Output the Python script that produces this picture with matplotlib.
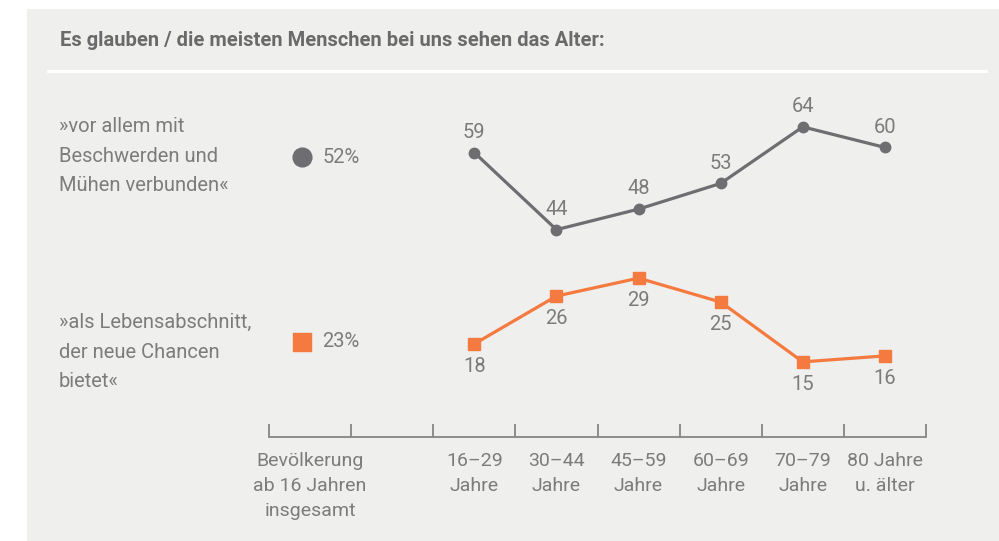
import matplotlib.pyplot as plt
from matplotlib.patches import Rectangle
from matplotlib.lines import Line2D

# data
groups = ['16–29\nJahre', '30–44\nJahre', '45–59\nJahre', '60–69\nJahre', '70–79\nJahre', '80 Jahre\nu. älter']
total_label = 'Bevölkerung\nab 16 Jahren\ninsgesamt'
beschwerden = [59, 44, 48, 53, 64, 60]
chancen = [18, 26, 29, 25, 15, 16]
beschwerden_total = 52
chancen_total = 23
series_labels = ['»vor allem mit\nBeschwerden und\nMühen verbunden«',
                 '»als Lebensabschnitt,\nder neue Chancen\nbietet«']
title = 'Es glauben / die meisten Menschen bei uns sehen das Alter:'

GRAY = '#6e6e72'
ORANGE = '#f47a40'
TEXT = '#7c7c7c'
BG = '#efefee'

W, H = 999, 541
plt.rcParams['font.family'] = ['Roboto', 'DejaVu Sans']

fig = plt.figure(figsize=(W / 100, H / 100), dpi=100)
fig.patch.set_facecolor('white')
fig.patches.append(Rectangle((27 / W, 0), 1 - 27 / W, 1 - 9 / H, transform=fig.transFigure,
                             facecolor=BG, edgecolor='none', zorder=-10))
fig.add_artist(Line2D([48 / W, 986 / W], [1 - 71 / H, 1 - 71 / H], color='white', lw=2.2, zorder=-5))

fig.text(60 / W, 1 - 41 / H, title, fontsize=14.5, fontweight='bold', color='#6a6a6a',
         va='center', ha='left')


def px_axes(top, bottom):
    x0, x1 = 269, 926
    return fig.add_axes([x0 / W, 1 - bottom / H, (x1 - x0) / W, (bottom - top) / H])


xs = [i + 2.5 for i in range(len(groups))]

# upper band
ax1 = px_axes(110, 240)
ax1.set_xlim(0, 8)
ax1.set_ylim(41.99, 67.28)
ax1.axis('off')
ax1.plot(xs, beschwerden, color=GRAY, lw=2.3, marker='o', ms=7.5, solid_capstyle='round')
for x, v in zip(xs, beschwerden):
    ax1.annotate(str(v), (x, v), xytext=(0, 14.5), textcoords='offset points',
                 ha='center', va='center', fontsize=14.5, color=TEXT)
ax1.plot([0.4], [0.638], transform=ax1.get_xaxis_transform(), marker='o', ms=13.5,
         color=GRAY, ls='none', clip_on=False)
ax1.text(0.65, 0.638, f'{beschwerden_total}%', transform=ax1.get_xaxis_transform(),
         ha='left', va='center', fontsize=14.5, color=TEXT)

# lower band
ax2 = px_axes(260, 380)
ax2.set_xlim(0, 8)
ax2.set_ylim(11.97, 32.03)
ax2.axis('off')
ax2.plot(xs, chancen, color=ORANGE, lw=2.3, marker='s', ms=8.5)
for x, v in zip(xs, chancen):
    ax2.annotate(str(v), (x, v), xytext=(0, -16), textcoords='offset points',
                 ha='center', va='center', fontsize=14.5, color=TEXT)
ax2.plot([0.4], [0.317], transform=ax2.get_xaxis_transform(), marker='s', ms=13,
         color=ORANGE, ls='none', clip_on=False)
ax2.text(0.65, 0.317, f'{chancen_total}%', transform=ax2.get_xaxis_transform(),
         ha='left', va='center', fontsize=14.5, color=TEXT)

# series labels on the left
fig.text(59 / W, 1 - 156 / H, series_labels[0], fontsize=14.5, color=TEXT,
         ha='left', va='center', linespacing=1.68)
fig.text(59 / W, 1 - 352 / H, series_labels[1], fontsize=14.5, color=TEXT,
         ha='left', va='center', linespacing=1.68)

# category axis
ax3 = px_axes(424, 437)
ax3.set_xlim(0, 8)
ax3.set_ylim(0, 1)
ax3.patch.set_visible(False)
for s in ['top', 'left', 'right']:
    ax3.spines[s].set_visible(False)
ax3.spines['bottom'].set_color('#858585')
ax3.spines['bottom'].set_linewidth(1.3)
ax3.set_yticks([])
ax3.set_xticks(range(9))
ax3.set_xticklabels([])
ax3.tick_params(axis='x', which='major', direction='in', length=9.5, width=1.3, color='#858585')
ax3.set_xticks([0.5] + xs, minor=True)
ax3.set_xticklabels([total_label] + groups, minor=True, fontsize=14, color=TEXT,
                    linespacing=1.5, va='top')
ax3.tick_params(axis='x', which='minor', length=0, pad=11)

fig.savefig('out.png', dpi=100, facecolor=fig.get_facecolor())
